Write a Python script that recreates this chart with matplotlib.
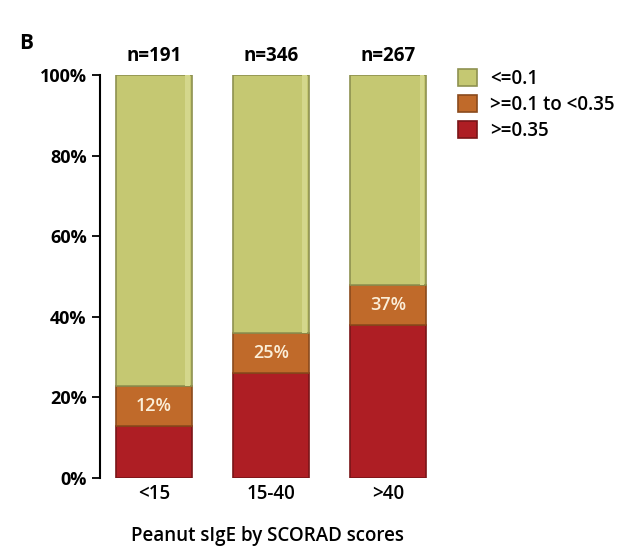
import matplotlib
matplotlib.use("Agg")
import matplotlib.pyplot as plt

plt.rcParams['font.family'] = ['Open Sans', 'DejaVu Sans']

groups = ['<15', '15-40', '>40']
n_labels = ['n=191', 'n=346', 'n=267']
high = [12.9, 26.0, 38.0]        # >=0.35
mid = [9.9, 10.0, 9.9]           # >=0.1 to <0.35
low = [77.2, 64.0, 52.1]         # <=0.1
pct_labels = ['12%', '25%', '37%']

green = '#c5c872'
orange = '#c06a2a'
red = '#ae1e24'

fig = plt.figure(figsize=(6.32, 5.46), dpi=100)
ax = fig.add_axes([0.158, 0.1245, 0.53, 0.738])

x = list(range(len(groups)))
w = 0.65
b1 = ax.bar(x, high, w, color=red, edgecolor='#7a1518', linewidth=1.2, label='>=0.35')
b2 = ax.bar(x, mid, w, bottom=high, color=orange, edgecolor='#8a4a1c', linewidth=1.2,
            label='>=0.1 to <0.35')
bottoms = [h + m for h, m in zip(high, mid)]
b3 = ax.bar(x, low, w, bottom=bottoms, color=green, edgecolor='#8e9150', linewidth=1.2,
            label='<=0.1')

# faint strip on right side for a bit of bevel
ax.bar([i + w / 2 - 0.035 for i in x], low, 0.04, bottom=bottoms, color='#d4d78c',
       linewidth=0)

for i in x:
    ax.text(i, high[i] + mid[i] / 2, pct_labels[i], ha='center', va='center',
            color='#fbeed8', fontsize=13, fontweight='semibold')
    ax.text(i, 102.3, n_labels[i], ha='center', va='bottom', fontsize=13.5,
            fontweight='bold')

ax.set_xlim(-0.46, 2.4)
ax.set_ylim(0, 100)
ax.set_yticks([0, 20, 40, 60, 80, 100])
ax.set_yticklabels(['0%', '20%', '40%', '60%', '80%', '100%'], fontweight='bold',
                   fontsize=13)
ax.set_xticks(x)
ax.set_xticklabels(groups, fontsize=13.5, fontweight='semibold')
ax.tick_params(axis='x', length=0, pad=4)
ax.tick_params(axis='y', length=6, width=1.3, direction='out')
for s in ['top', 'right', 'bottom']:
    ax.spines[s].set_visible(False)
ax.spines['left'].set_linewidth(1.5)
ax.set_xlabel('Peanut sIgE by SCORAD scores', fontsize=13.5, fontweight='semibold',
              labelpad=16)

ax.legend(handles=[b3, b2, b1], loc='upper left', bbox_to_anchor=(1.02, 1.058),
          frameon=False, handlelength=1.0, handleheight=1.0,
          labelspacing=0.32, handletextpad=0.7,
          prop={'weight': 'semibold', 'size': 13.5})

fig.text(0.03, 0.91, 'B', fontsize=15, fontweight='bold')

fig.savefig('out.png', dpi=100)
